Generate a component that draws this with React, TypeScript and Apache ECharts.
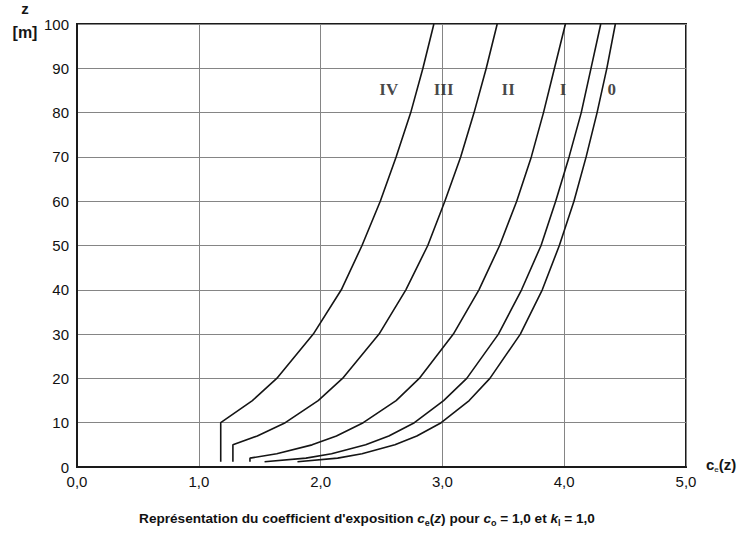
import React, { useEffect, useRef } from "react";
import * as echarts from "echarts";

// x-axis ticks (c_e(z)) and y-axis ticks (z [m])
const xTicks = [0, 1, 2, 3, 4, 5];
const yTicks = [0, 10, 20, 30, 40, 50, 60, 70, 80, 90, 100];

// Terrain categories
const categoryNames = ["0", "I", "II", "III", "IV"];

// Category 0
const cat0Z = [1.2, 2, 3, 5, 7, 10, 15, 20, 30, 40, 50, 60, 70, 80, 90, 100];
const cat0Ce = [1.81, 2.14, 2.34, 2.61, 2.79, 2.99, 3.22, 3.39, 3.64, 3.82, 3.96, 4.08, 4.18, 4.27, 4.35, 4.42];
// Category I
const cat1Z = [1.2, 2, 3, 5, 7, 10, 15, 20, 30, 40, 50, 60, 70, 80, 90, 100];
const cat1Ce = [1.54, 1.88, 2.09, 2.37, 2.56, 2.77, 3.01, 3.2, 3.46, 3.65, 3.81, 3.93, 4.04, 4.14, 4.22, 4.3];
// Category II
const cat2Z = [1.2, 2, 3, 5, 7, 10, 15, 20, 30, 40, 50, 60, 70, 80, 90, 100];
const cat2Ce = [1.42, 1.42, 1.64, 1.93, 2.13, 2.35, 2.62, 2.81, 3.09, 3.3, 3.47, 3.61, 3.73, 3.83, 3.92, 4.01];
// Category III
const cat3Z = [1.2, 5, 7, 10, 15, 20, 30, 40, 50, 60, 70, 80, 90, 100];
const cat3Ce = [1.28, 1.28, 1.48, 1.71, 1.98, 2.18, 2.48, 2.7, 2.88, 3.02, 3.15, 3.26, 3.36, 3.45];
// Category IV
const cat4Z = [1.2, 10, 15, 20, 30, 40, 50, 60, 70, 80, 90, 100];
const cat4Ce = [1.18, 1.18, 1.44, 1.64, 1.94, 2.17, 2.34, 2.49, 2.62, 2.74, 2.84, 2.93];

// Curve label positions
const labelCe = [4.39, 3.99, 3.54, 3.01, 2.56];
const labelZ = [85.3, 85.3, 85.3, 85.3, 85.3];

const pairs = (zs: number[], ces: number[]) => zs.map((z, i) => [ces[i], z]);

export default function App() {
  const ref = useRef<HTMLDivElement>(null);
  useEffect(() => {
    const chart = echarts.init(ref.current!, null, { renderer: "svg" });
    const sans = "'Liberation Sans', Arial, sans-serif";
    const curves = [
      pairs(cat0Z, cat0Ce),
      pairs(cat1Z, cat1Ce),
      pairs(cat2Z, cat2Ce),
      pairs(cat3Z, cat3Ce),
      pairs(cat4Z, cat4Ce),
    ];
    chart.setOption({
      animation: false,
      backgroundColor: "#ffffff",
      grid: {
        left: 77,
        right: 55,
        top: 24,
        bottom: 72,
        show: true,
        borderColor: "#1a1a1a",
        borderWidth: 2,
        backgroundColor: "transparent",
      },
      xAxis: {
        type: "value",
        min: xTicks[0],
        max: xTicks[xTicks.length - 1],
        interval: 1,
        axisLine: { show: true, lineStyle: { color: "#1a1a1a", width: 2 } },
        axisTick: { show: false },
        splitLine: { show: true, lineStyle: { color: "#858585", width: 1 } },
        axisLabel: {
          formatter: (v: number) => v.toFixed(1).replace(".", ","),
          color: "#111",
          fontSize: 15,
          fontFamily: sans,
          margin: 7,
        },
      },
      yAxis: {
        type: "value",
        min: yTicks[0],
        max: yTicks[yTicks.length - 1],
        interval: 10,
        axisLine: { show: true, lineStyle: { color: "#1a1a1a", width: 2 } },
        axisTick: { show: false },
        splitLine: { show: true, lineStyle: { color: "#858585", width: 1 } },
        axisLabel: {
          color: "#111",
          fontSize: 15,
          fontFamily: sans,
          margin: 8,
        },
      },
      series: [
        ...curves.map((d, i) => ({
          type: "line",
          name: categoryNames[i],
          data: d,
          showSymbol: false,
          symbol: "none",
          smooth: false,
          lineStyle: { color: "#151515", width: 1.6 },
          silent: true,
        })),
        {
          type: "scatter",
          data: labelCe.map((c, i) => [c, labelZ[i]]),
          symbolSize: 1,
          itemStyle: { color: "rgba(0,0,0,0)" },
          label: {
            show: true,
            position: "inside",
            formatter: (p: any) => categoryNames[p.dataIndex],
            fontFamily: "'Liberation Serif', 'Times New Roman', serif",
            fontWeight: "bold",
            fontSize: 17,
            color: "#151515",
          },
          silent: true,
        },
      ],
      graphic: [
        {
          type: "text",
          x: 25,
          y: 16,
          style: { text: "z", font: `bold 15px ${sans}`, fill: "#151515", align: "center", verticalAlign: "bottom" },
        },
        {
          type: "text",
          x: 25,
          y: 32,
          style: { text: "[m]", font: `bold 16px ${sans}`, fill: "#151515", align: "center", verticalAlign: "middle" },
        },
        {
          type: "text",
          left: 706,
          top: 457,
          style: {
            text: "{a|c}{b|e}{a|(z)}",
            rich: {
              a: { fontSize: 15, lineHeight: 18, fontFamily: sans, fill: "#151515", fontWeight: "bold" },
              b: { fontSize: 8, lineHeight: 9, fontFamily: sans, fill: "#151515", verticalAlign: "bottom" },
            },
          },
        },
        {
          type: "text",
          x: 367,
          y: 518,
          style: {
            text:
              "{n|Représentation du coefficient d'exposition }{i|c}{s|e}{n|(}{i|z}{n|) pour }{i|c}{s|o}{n| = 1,0 et }{i|k}{s|l}{n| = 1,0}",
            align: "center",
            verticalAlign: "middle",
            rich: {
              n: { fontSize: 13.6, lineHeight: 18, fontFamily: sans, fontWeight: "bold", fill: "#111" },
              i: { fontSize: 13.6, lineHeight: 18, fontFamily: sans, fontWeight: "bold", fontStyle: "italic", fill: "#111" },
              s: { fontSize: 9, lineHeight: 9, fontFamily: sans, fontWeight: "bold", fill: "#111", verticalAlign: "bottom" },
            },
          },
        },
      ],
    });
    return () => chart.dispose();
  }, []);
  return (
    <div
      ref={ref}
      style={{ position: "fixed", left: 0, top: 0, width: 741, height: 539, background: "#fff" }}
    />
  );
}
